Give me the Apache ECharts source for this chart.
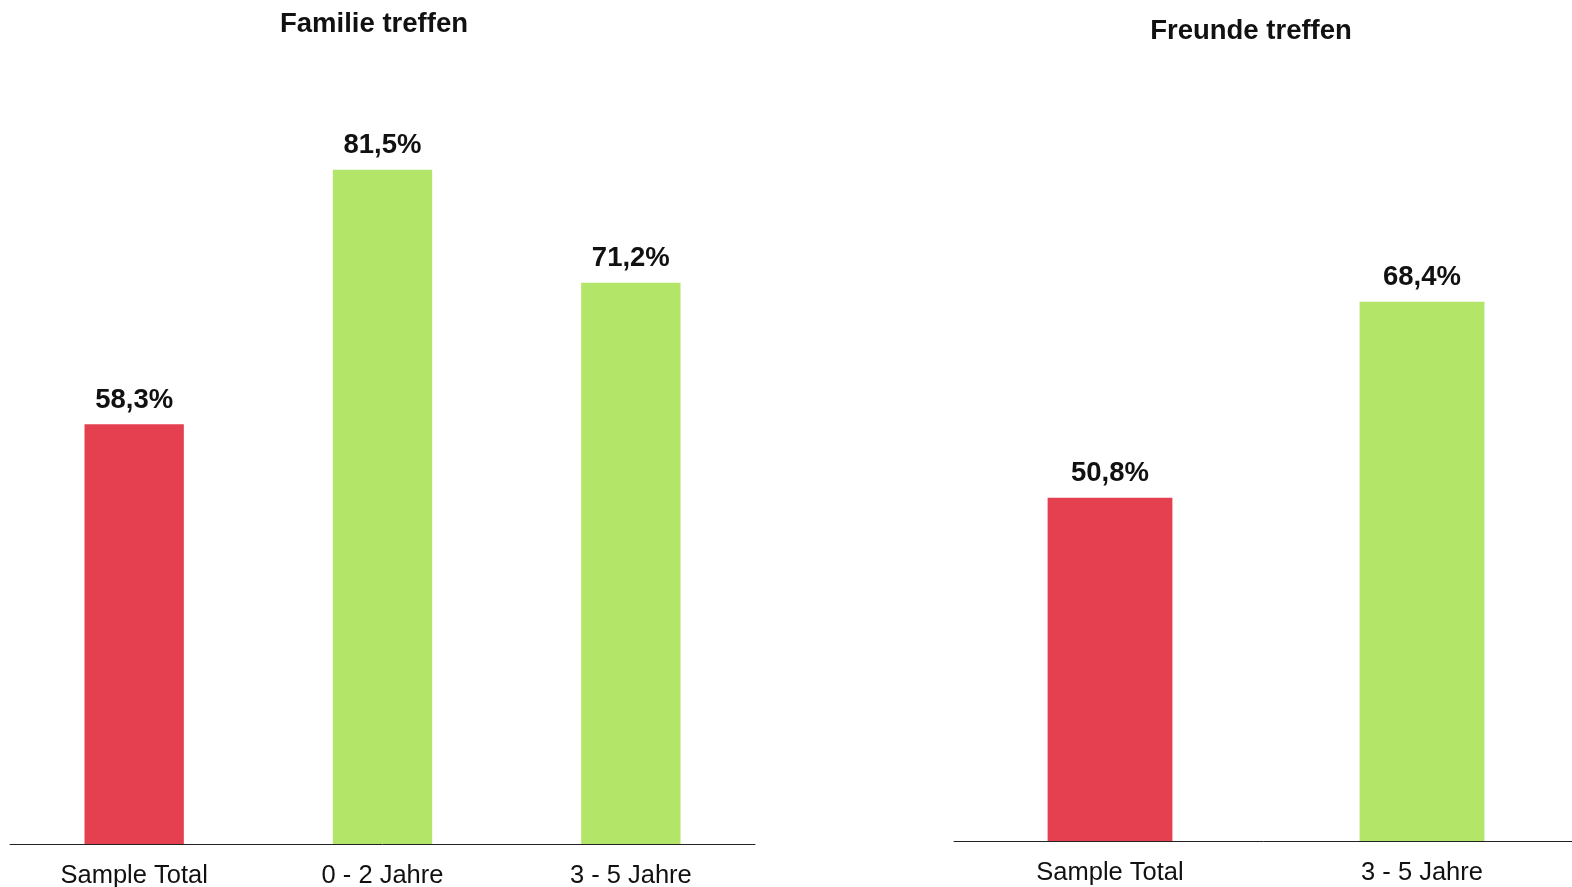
<!DOCTYPE html>
<html>
<head>
<meta charset="utf-8">
<script src="https://cdn.jsdelivr.net/npm/echarts@6/dist/echarts.min.js"></script>
<style>
html,body{margin:0;padding:0;background:#fff;}
#chart{width:1572px;height:887px;}
</style>
</head>
<body>
<div id="chart"></div>
<script>
const titleFamilie = 'Familie treffen';
const titleFreunde = 'Freunde treffen';
const categoriesFamilie = ['Sample Total', '0 - 2 Jahre', '3 - 5 Jahre'];
const valuesFamilie = [58.3, 81.5, 71.2];
const categoriesFreunde = ['Sample Total', '3 - 5 Jahre'];
const valuesFreunde = [50.8, 68.4];

const RED = '#E5404F';
const GREEN = '#B3E668';
const FONT = '"Liberation Sans", Arial, sans-serif';

function colorFor(name) { return name === 'Sample Total' ? RED : GREEN; }
function fmt(v) { return v.toFixed(1).replace('.', ',') + '%'; }

function makeData(cats, vals) {
  return vals.map((v, i) => ({ value: v, itemStyle: { color: colorFor(cats[i]) } }));
}

const chart = echarts.init(document.getElementById('chart'), null, { renderer: 'canvas' });
const axisCommon = {
  type: 'category',
  axisLine: { show: true, lineStyle: { color: '#222', width: 1 } },
  axisTick: { show: false },
  axisLabel: { color: '#111', fontSize: 25.5, fontFamily: FONT, margin: 19 }
};
const valueCommon = {
  type: 'value', min: 20, max: 90, show: false,
  splitLine: { show: false }
};
const labelCommon = {
  show: true, position: 'top', distance: 10,
  color: '#111', fontSize: 27.5, fontWeight: 'bold', fontFamily: FONT,
  formatter: p => fmt(p.value)
};
chart.setOption({
  animation: false,
  backgroundColor: '#fff',
  title: [
    { text: titleFamilie, left: 369, top: 5, textAlign: 'center',
      textStyle: { fontSize: 27.5, fontWeight: 'bold', color: '#111', fontFamily: FONT } },
    { text: titleFreunde, left: 1246, top: 12, textAlign: 'center',
      textStyle: { fontSize: 27.5, fontWeight: 'bold', color: '#111', fontFamily: FONT } }
  ],
  grid: [
    { left: 10, width: 745, top: 76.7, bottom: 43, containLabel: false, outerBoundsMode: 'none' },
    { left: 954, right: -6, top: 61, bottom: 46, containLabel: false, outerBoundsMode: 'none' }
  ],
  xAxis: [
    Object.assign({ gridIndex: 0, data: categoriesFamilie }, axisCommon),
    Object.assign({ gridIndex: 1, data: categoriesFreunde }, axisCommon)
  ],
  yAxis: [
    Object.assign({ gridIndex: 0 }, valueCommon),
    Object.assign({ gridIndex: 1 }, valueCommon)
  ],
  series: [
    { type: 'bar', xAxisIndex: 0, yAxisIndex: 0, barWidth: '40%',
      data: makeData(categoriesFamilie, valuesFamilie), label: labelCommon },
    { type: 'bar', xAxisIndex: 1, yAxisIndex: 1, barWidth: '40%',
      data: makeData(categoriesFreunde, valuesFreunde), label: labelCommon }
  ]
});
</script>
</body>
</html>
